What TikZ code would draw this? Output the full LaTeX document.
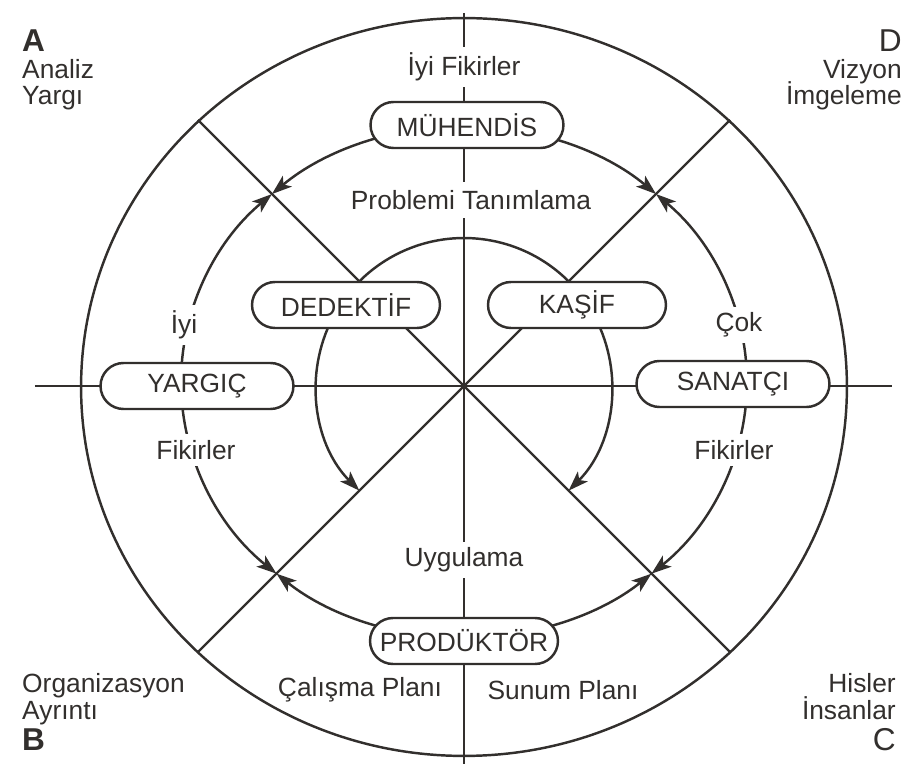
\documentclass[tikz,border=0pt]{standalone}
\usepackage{fontspec}
\setmainfont{Liberation Sans}
\usetikzlibrary{positioning, arrows.meta, shapes.misc}

\definecolor{ink}{RGB}{50,47,45}
\newcommand{\lblsize}{\fontsize{15}{18}\selectfont}
\newcommand{\cornersize}{\fontsize{18}{21}\selectfont}

\tikzset{
  rolebox/.style={draw=ink, rounded rectangle, fill=white, text=ink, font=\lblsize,
    minimum width=4cm, minimum height=0.92cm, inner sep=2pt},
  lbl/.style={fill=white, text=ink, font=\lblsize, inner xsep=4pt, inner ysep=3.5pt},
  plain/.style={text=ink, font=\lblsize, inner sep=2pt},
  corner/.style={text=ink, font=\lblsize, inner sep=0pt},
  flow/.style={-{Stealth[length=4mm, width=2.8mm, inset=1mm]}},
}

\begin{document}
\begin{tikzpicture}[x=0.02cm, y=0.02cm, line width=1.4pt, color=ink]
    \useasboundingbox (-464,-378) rectangle (446,386);

    % Centre and ends of the cross lines
    \coordinate (o) at (0,0);
    \coordinate (top) at (0,373);
    \coordinate (bot) at (0,-378);
    \coordinate (lft) at (-429,0);
    \coordinate (rgt) at (428,0);
    \coordinate (ul) at (-266,266);
    \coordinate (ur) at (266,266);
    \coordinate (ll) at (-266,-266);
    \coordinate (lr) at (266,-266);

    % Outer ring
    \draw (0,-1) ellipse [x radius=7.66cm, y radius=7.38cm];

    % Axes and diagonals
    \draw (top) -- (bot);
    \draw (lft) -- (rgt);
    \draw (ul) -- (lr);
    \draw (ur) -- (ll);

    % Middle ring arrows
    \begin{scope}[shift={(0,4)}]
        \draw[flow] (90:5.66cm and 5.12cm) arc[start angle=90, end angle=132.75, x radius=5.66cm, y radius=5.12cm];
        \draw[flow] (90:5.66cm and 5.12cm) arc[start angle=90, end angle=47.25, x radius=5.66cm, y radius=5.12cm];
        \draw[flow] (180:5.66cm and 5.12cm) arc[start angle=180, end angle=132.75, x radius=5.66cm, y radius=5.12cm];
        \draw[flow] (0:5.66cm and 5.12cm) arc[start angle=0, end angle=47.25, x radius=5.66cm, y radius=5.12cm];
        \draw[flow] (180:5.66cm and 5.12cm) arc[start angle=180, end angle=228.5, x radius=5.66cm, y radius=5.12cm];
        \draw[flow] (270:5.66cm and 5.12cm) arc[start angle=270, end angle=228.5, x radius=5.66cm, y radius=5.12cm];
        \draw[flow] (360:5.66cm and 5.12cm) arc[start angle=360, end angle=311.5, x radius=5.66cm, y radius=5.12cm];
        \draw[flow] (270:5.66cm and 5.12cm) arc[start angle=270, end angle=311.5, x radius=5.66cm, y radius=5.12cm];
    \end{scope}

    % Inner ring
    \draw (40:2.96cm) arc[start angle=40, end angle=140, radius=2.96cm];
    \draw[flow] (155:2.96cm) arc[start angle=155, end angle=225, radius=2.96cm];
    \draw[flow] (25:2.96cm) arc[start angle=25, end angle=-45, radius=2.96cm];

    % Labels on the lines
    \node[lbl] (iyifik) at (0,319) {İyi Fikirler};
    \node[lbl, inner ysep=5pt] (problem) at (7,186) {Problemi Tanımlama};
    \node[lbl] (uygulama) at (0,-174) {Uygulama};
    \node[lbl] (iyi) at (-280,61) {İyi};
    \node[lbl] (fikirsol) at (-268,-64) {Fikirler};
    \node[lbl] (cok) at (275,61) {Çok};
    \node[lbl] (fikirsag) at (270,-64) {Fikirler};
    \node[plain] (calisma) at (-104,-304) {Çalışma Planı};
    \node[plain] (sunum) at (99,-304) {Sunum Planı};

    % Roles
    \node[rolebox] (muhendis) at (3,261) {MÜHENDİS};
    \node[rolebox] (yargic) at (-267,0) {YARGIÇ};
    \node[rolebox] (sanatci) at (269,2) {SANATÇI};
    \node[rolebox, minimum width=3.9cm] (produktor) at (0,-255) {PRODÜKTÖR};
    \node[rolebox, minimum width=3.9cm] (dedektif) at (-118,81) {DEDEKTİF};
    \node[rolebox, minimum width=3.7cm] (kasif) at (113,81) {KAŞİF};

    % Corner texts
    \node[corner, anchor=base west, font=\cornersize\bfseries] (a) at (-443,334) {A};
    \node[corner, anchor=base west] (analiz) at (-443,307) {Analiz};
    \node[corner, anchor=base west] (yargi) at (-443,281) {Yargı};
    \node[corner, anchor=base east, font=\cornersize] (d) at (439,334) {D};
    \node[corner, anchor=base east] (vizyon) at (439,307) {Vizyon};
    \node[corner, anchor=base east] (imgeleme) at (439,281) {İmgeleme};
    \node[corner, anchor=base west] (organ) at (-443,-306) {Organizasyon};
    \node[corner, anchor=base west] (ayrinti) at (-443,-333) {Ayrıntı};
    \node[corner, anchor=base west, font=\cornersize\bfseries] (b) at (-443,-364) {B};
    \node[corner, anchor=base east] (hisler) at (433,-306) {Hisler};
    \node[corner, anchor=base east] (insanlar) at (433,-333) {İnsanlar};
    \node[corner, anchor=base east, font=\cornersize] (c) at (433,-364) {C};
\end{tikzpicture}
\end{document}
